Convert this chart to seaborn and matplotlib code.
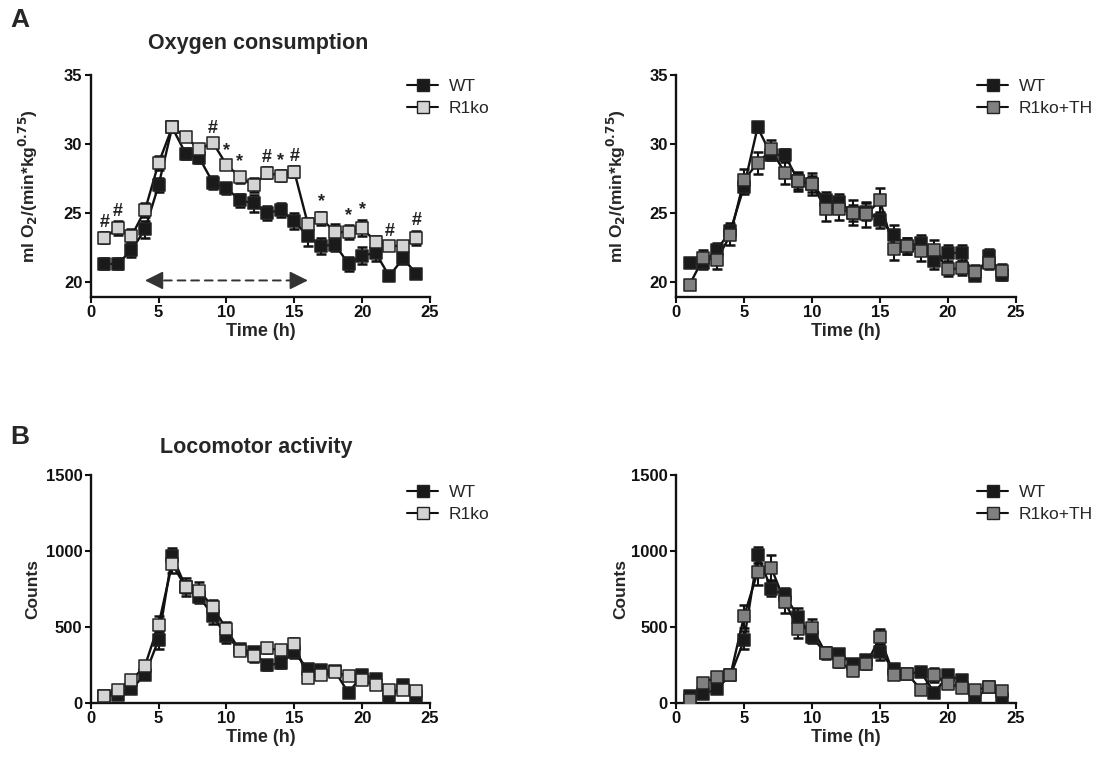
import matplotlib
matplotlib.use("Agg")
import matplotlib.pyplot as plt
from matplotlib.lines import Line2D
import pandas as pd
import seaborn as sns
import numpy as np

sns.set_style("ticks")
plt.rcParams['font.family'] = ['Liberation Sans', 'DejaVu Sans']

# hours
hours = list(range(1, 25))

# Oxygen consumption, WT vs R1ko (mean, SEM)
o2_wt = [21.3, 21.3, 22.3, 23.8, 27.0, 31.2, 29.3, 29.0, 27.2, 26.8, 25.9, 25.7,
         25.0, 25.2, 24.4, 23.3, 22.6, 22.7, 21.3, 21.9, 22.1, 20.4, 21.7, 20.6]
o2_wt_sem = [0.4, 0.4, 0.5, 0.6, 0.5, 0.3, 0.4, 0.4, 0.5, 0.4, 0.5, 0.6,
             0.5, 0.5, 0.6, 0.7, 0.6, 0.5, 0.5, 0.6, 0.6, 0.3, 0.4, 0.3]
o2_ko = [23.2, 23.9, 23.3, 25.2, 28.6, 31.2, 30.5, 29.6, 30.1, 28.5, 27.6, 27.0,
         27.9, 27.7, 28.0, 24.2, 24.6, 23.6, 23.6, 23.9, 22.9, 22.6, 22.6, 23.2]
o2_ko_sem = [0.4, 0.5, 0.5, 0.5, 0.5, 0.2, 0.3, 0.3, 0.3, 0.3, 0.4, 0.5,
             0.4, 0.4, 0.4, 0.4, 0.5, 0.6, 0.5, 0.6, 0.4, 0.3, 0.3, 0.5]

# Oxygen consumption, WT vs R1ko+TH
o2_wt2 = [21.4, 21.4, 22.3, 23.7, 26.9, 31.2, 29.2, 29.2, 27.3, 27.1, 25.9, 25.8,
          25.0, 25.1, 24.5, 23.4, 22.6, 22.8, 21.5, 22.1, 22.1, 20.4, 21.9, 20.5]
o2_wt2_sem = [0.3, 0.5, 0.5, 0.6, 0.5, 0.3, 0.4, 0.4, 0.6, 0.6, 0.6, 0.6,
              0.6, 0.6, 0.6, 0.7, 0.6, 0.6, 0.6, 0.6, 0.6, 0.3, 0.5, 0.4]
o2_th = [19.8, 21.7, 21.6, 23.4, 27.4, 28.6, 29.6, 27.9, 27.3, 27.1, 25.3, 25.3,
         25.0, 24.9, 25.9, 22.4, 22.6, 22.2, 22.3, 20.9, 21.0, 20.7, 21.4, 20.8]
o2_th_sem = [0.3, 0.6, 0.7, 0.7, 0.8, 0.8, 0.7, 0.8, 0.7, 0.8, 0.9, 0.8,
             0.9, 0.9, 0.9, 0.8, 0.6, 0.7, 0.7, 0.5, 0.5, 0.5, 0.5, 0.5]

# Locomotor activity, WT vs R1ko
loc_wt = [45, 55, 92, 186, 416, 970, 762, 700, 574, 438, 355, 333,
          247, 263, 333, 223, 215, 208, 66, 186, 160, 26, 120, 44]
loc_wt_sem = [15, 15, 20, 30, 60, 50, 40, 40, 55, 40, 35, 35,
              30, 30, 40, 25, 25, 25, 20, 25, 20, 15, 20, 15]
loc_ko = [48, 88, 149, 245, 515, 915, 762, 738, 631, 486, 344, 307,
          361, 346, 390, 164, 186, 204, 175, 149, 116, 83, 83, 77]
loc_ko_sem = [15, 20, 20, 30, 55, 60, 60, 60, 45, 45, 30, 35,
              35, 35, 35, 25, 25, 25, 25, 20, 20, 20, 20, 20]

# Locomotor activity, WT vs R1ko+TH
loc_wt2 = [44, 57, 94, 182, 412, 973, 752, 708, 565, 434, 329, 325,
           259, 285, 336, 226, 193, 204, 66, 182, 149, 29, 105, 26]
loc_wt2_sem = [15, 15, 20, 25, 60, 55, 50, 50, 60, 40, 35, 30,
               30, 30, 50, 25, 20, 20, 20, 25, 20, 15, 20, 15]
loc_th = [22, 132, 171, 182, 570, 862, 891, 665, 489, 496, 329, 270,
          211, 255, 434, 187, 193, 88, 182, 127, 99, 84, 105, 80]
loc_th_sem = [10, 35, 30, 25, 75, 85, 85, 70, 60, 55, 40, 35,
              30, 30, 55, 25, 20, 20, 45, 25, 25, 20, 20, 20]

# significance marks above R1ko (oxygen panel)
sig_hours = [1, 2, 9, 10, 11, 13, 14, 15, 17, 19, 20, 22, 24]
sig_marks = ['#', '#', '#', '*', '*', '#', '*', '#', '*', '*', '*', '#', '#']

colors = {'WT': '#1a1a1a', 'R1ko': '#d4d4d4', 'R1ko+TH': '#808080'}

fig = plt.figure(figsize=(10.93, 7.63), dpi=100)
W, H = 1093, 763


def make_ax(x0, x1, ytop, ybot):
    return fig.add_axes([x0 / W, 1 - ybot / H, (x1 - x0) / W, (ybot - ytop) / H])


def draw(ax, series, ylim, yticks):
    for name, mean, sem in series:
        df = pd.DataFrame({'hour': hours, 'value': mean})
        ax.errorbar(hours, mean, yerr=sem, fmt='none', ecolor='#111111',
                    elinewidth=1.5, capsize=3.5, capthick=1.8, zorder=2)
        sns.lineplot(data=df, x='hour', y='value', color='#111111', lw=1.7,
                     ax=ax, zorder=3)
        sns.scatterplot(data=df, x='hour', y='value', marker='s', s=70,
                        color=colors[name], edgecolor='#222222', linewidth=1.1,
                        ax=ax, zorder=4)
    ax.set_xlim(0, 25)
    ax.set_ylim(*ylim)
    ax.set_xticks([0, 5, 10, 15, 20, 25])
    ax.set_yticks(yticks)
    sns.despine(ax=ax)
    for s in ['left', 'bottom']:
        ax.spines[s].set_linewidth(1.7)
        ax.spines[s].set_color('#111111')
    ax.tick_params(width=1.5, length=4, labelsize=12, pad=2, colors='#111111')
    for lab in ax.get_xticklabels() + ax.get_yticklabels():
        lab.set_fontweight('bold')
    ax.set_xlabel('Time (h)', fontsize=13, fontweight='bold', labelpad=2)


def legend(ax, names, x, y):
    handles = [Line2D([], [], color='#111111', lw=1.5, marker='s', markersize=8.5,
                      markerfacecolor=colors[n], markeredgecolor='#222222')
               for n in names]
    fig.legend(handles, names, loc='upper left', bbox_to_anchor=(x / W, 1 - y / H),
               frameon=False, fontsize=12.5, handlelength=1.8, handletextpad=0.6,
               labelspacing=0.4, borderaxespad=0)


ylab_o2 = r'ml O$_\mathbf{2}$/(min*kg$^\mathbf{0.75}$)'

ax1 = make_ax(90.7, 430, 75, 297)
draw(ax1, [('WT', o2_wt, o2_wt_sem), ('R1ko', o2_ko, o2_ko_sem)], (18.9, 35), [20, 25, 30, 35])
ax1.set_ylabel(ylab_o2, fontsize=12.5, fontweight='bold')
ax1.yaxis.set_label_coords(-0.15, 0.5)
for h, m in zip(sig_hours, sig_marks):
    i = hours.index(h)
    ax1.text(h, o2_ko[i] + o2_ko_sem[i] + 0.1, m, ha='center', va='bottom',
             fontsize=13, fontweight='bold', color='#222222', zorder=5)

# dashed double arrow (light phase), solid heads
ax1.annotate('', xy=(5.0, 20.1), xytext=(15.0, 20.1),
             arrowprops=dict(arrowstyle='-', ls=(0, (4, 3)), lw=1.4,
                             color='#333333', shrinkA=0, shrinkB=0))
for tip, base in [(4.0, 5.0), (16.0, 15.0)]:
    ax1.annotate('', xy=(tip, 20.1), xytext=(base, 20.1),
                 arrowprops=dict(arrowstyle='-|>', lw=1.2, color='#333333',
                                 mutation_scale=28, shrinkA=0, shrinkB=0))
legend(ax1, ['WT', 'R1ko'], 400, 72)

ax2 = make_ax(676, 1016, 75, 297)
draw(ax2, [('WT', o2_wt2, o2_wt2_sem), ('R1ko+TH', o2_th, o2_th_sem)], (18.9, 35), [20, 25, 30, 35])
ax2.set_ylabel(ylab_o2, fontsize=12.5, fontweight='bold')
ax2.yaxis.set_label_coords(-0.14, 0.5)
legend(ax2, ['WT', 'R1ko+TH'], 970, 72)

ax3 = make_ax(90.7, 430, 475, 703)
draw(ax3, [('WT', loc_wt, loc_wt_sem), ('R1ko', loc_ko, loc_ko_sem)], (0, 1500), [0, 500, 1000, 1500])
ax3.set_ylabel('Counts', fontsize=12.5, fontweight='bold')
ax3.yaxis.set_label_coords(-0.15, 0.5)
legend(ax3, ['WT', 'R1ko'], 400, 478)

ax4 = make_ax(676, 1016, 475, 703)
draw(ax4, [('WT', loc_wt2, loc_wt2_sem), ('R1ko+TH', loc_th, loc_th_sem)], (0, 1500), [0, 500, 1000, 1500])
ax4.set_ylabel('Counts', fontsize=12.5, fontweight='bold')
ax4.yaxis.set_label_coords(-0.14, 0.5)
legend(ax4, ['WT', 'R1ko+TH'], 970, 478)

fig.text(10 / W, 1 - 20 / H, 'A', fontsize=19, fontweight='bold', va='center')
fig.text(10 / W, 1 - 437 / H, 'B', fontsize=19, fontweight='bold', va='center')
fig.text(258 / W, 1 - 43 / H, 'Oxygen consumption', fontsize=15.5, fontweight='bold',
         ha='center', va='center')
fig.text(256 / W, 1 - 447 / H, 'Locomotor activity', fontsize=15.5, fontweight='bold',
         ha='center', va='center')

fig.savefig('out.png', dpi=100)
